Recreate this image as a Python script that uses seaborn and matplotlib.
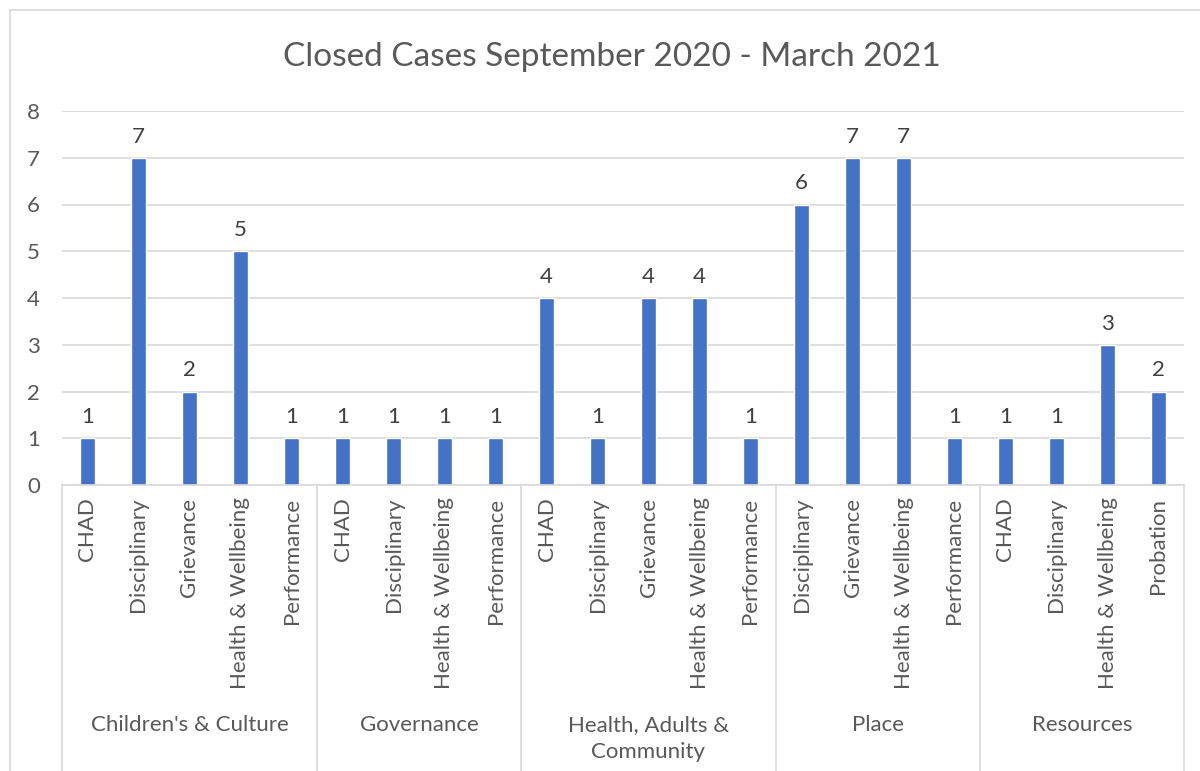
import matplotlib

matplotlib.use("Agg")
import matplotlib.pyplot as plt
import pandas as pd
import seaborn as sns

# Data
directorates = [
    "Children's & Culture",
    "Governance",
    "Health, Adults &\nCommunity",
    "Place",
    "Resources",
]
case_types = [
    ["CHAD", "Disciplinary", "Grievance", "Health & Wellbeing", "Performance"],
    ["CHAD", "Disciplinary", "Health & Wellbeing", "Performance"],
    ["CHAD", "Disciplinary", "Grievance", "Health & Wellbeing", "Performance"],
    ["Disciplinary", "Grievance", "Health & Wellbeing", "Performance"],
    ["CHAD", "Disciplinary", "Health & Wellbeing", "Probation"],
]
closed_cases = [
    [1, 7, 2, 5, 1],
    [1, 1, 1, 1],
    [4, 1, 4, 4, 1],
    [6, 7, 7, 1],
    [1, 1, 3, 2],
]

rows = []
for grp, types, vals in zip(directorates, case_types, closed_cases):
    for t, v in zip(types, vals):
        rows.append({"key": f"{grp}|{t}", "group": grp, "type": t, "cases": v})
df = pd.DataFrame(rows)

sns.set_theme(style="white")
plt.rcParams["font.family"] = ["Lato", "DejaVu Sans"]

BLUE = "#4472C4"
GRID = "#d9d9d9"
TEXT = "#595959"
FS = 16

fig = plt.figure(figsize=(12, 7.71), dpi=100)
ax = fig.add_axes([62 / 1200, 1 - 485 / 771, (1184 - 62) / 1200, (485 - 111) / 771])

sns.barplot(data=df, x="key", y="cases", order=df["key"], color=BLUE,
            width=0.31, saturation=1, ax=ax)

ax.set_ylim(0, 8)
ax.set_xlim(-0.5, len(df) - 0.5)
ax.set_yticks(range(0, 9))
ax.yaxis.grid(True, color=GRID, linewidth=1.2)
ax.set_axisbelow(True)
for side in ["top", "right", "left"]:
    ax.spines[side].set_visible(False)
ax.spines["bottom"].set_color(GRID)
ax.spines["bottom"].set_linewidth(1.2)

ax.set_xticks(range(len(df)))
ax.set_xticklabels(df["type"], rotation=90, va="top", ha="center")
ax.tick_params(axis="x", length=0, pad=9, labelsize=FS, labelcolor=TEXT)
ax.tick_params(axis="y", length=0, pad=16, labelsize=FS, labelcolor=TEXT)
ax.set_xlabel("")
ax.set_ylabel("")

ax.bar_label(ax.containers[0], fontsize=FS, color="#404040", padding=8)

# group dividers and group names below the tick labels
trans = ax.get_xaxis_transform()
edges = [-0.5]
for types in case_types:
    edges.append(edges[-1] + len(types))
for x in edges:
    ax.plot([x, x], [0, -0.8], transform=trans, color=GRID, linewidth=1.2, clip_on=False)
for grp, lo, hi in zip(directorates, edges[:-1], edges[1:]):
    ax.text((lo + hi) / 2, -0.614, grp, transform=trans, ha="center", va="top",
            fontsize=FS, color=TEXT, linespacing=1.45)

fig.text(0.51, 1 - 57 / 771, "Closed Cases September 2020 - March 2021",
         ha="center", va="center", fontsize=24, color=TEXT)

# outer chart border (cropped at right and bottom)
fig.add_artist(plt.Line2D([10 / 1200, 10 / 1200], [0, 1 - 10 / 771], color=GRID, linewidth=1.2))
fig.add_artist(plt.Line2D([10 / 1200, 1], [1 - 10 / 771, 1 - 10 / 771], color=GRID, linewidth=1.2))

fig.savefig("out.png", dpi=100, facecolor="white")
